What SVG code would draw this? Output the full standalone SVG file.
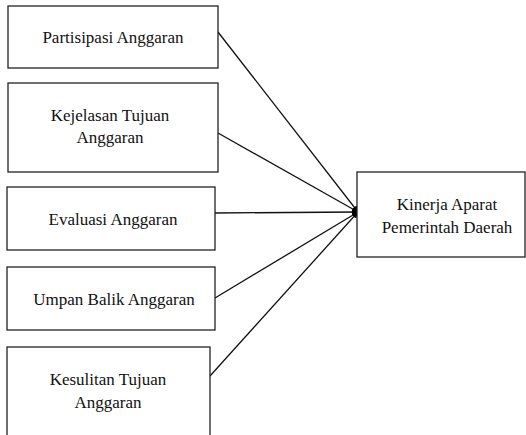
<svg xmlns="http://www.w3.org/2000/svg" width="526" height="435" viewBox="0 0 526 435">
<style>
.box{fill:#fff;stroke:#222;stroke-width:1.3}
.t{font-family:'Liberation Serif','Times New Roman',serif;font-size:17px;fill:#111;text-anchor:middle}
.c{stroke:#111;stroke-width:1.3;fill:none;marker-end:url(#ah)}
</style>
<defs>
<marker id="ah" viewBox="0 0 10 10" refX="10" refY="5" markerWidth="6" markerHeight="6" markerUnits="userSpaceOnUse" orient="auto">
<path d="M0,0 L10,5 L0,10 z" fill="#000"/>
</marker>
</defs>
<rect width="526" height="435" fill="#fff"/>
<g id="connectors">
<line class="c" x1="218" y1="32" x2="358" y2="212"/>
<line class="c" x1="218" y1="133" x2="358" y2="212"/>
<line class="c" x1="215" y1="213" x2="358" y2="212"/>
<line class="c" x1="215" y1="298" x2="358" y2="212"/>
<line class="c" x1="210" y1="376" x2="358" y2="212"/>
</g>
<g id="n1"><rect class="box" x="8" y="6" width="210" height="62"/><text class="t" x="113" y="43">Partisipasi  Anggaran</text></g>
<g id="n2"><rect class="box" x="8" y="83" width="210" height="89"/><text class="t" x="110" y="121">Kejelasan Tujuan</text><text class="t" x="110" y="143">Anggaran</text></g>
<g id="n3"><rect class="box" x="7" y="187" width="208" height="63"/><text class="t" x="113" y="225">Evaluasi Anggaran</text></g>
<g id="n4"><rect class="box" x="7" y="267" width="208" height="63"/><text class="t" x="114" y="305">Umpan Balik Anggaran</text></g>
<g id="n5"><rect class="box" x="7" y="347" width="203" height="100"/><text class="t" x="108" y="385">Kesulitan Tujuan</text><text class="t" x="108" y="408">Anggaran</text></g>
<g id="n6"><rect class="box" x="357" y="172" width="168" height="85"/><text class="t" x="447" y="210">Kinerja Aparat</text><text class="t" x="447" y="233">Pemerintah Daerah</text></g>
</svg>
